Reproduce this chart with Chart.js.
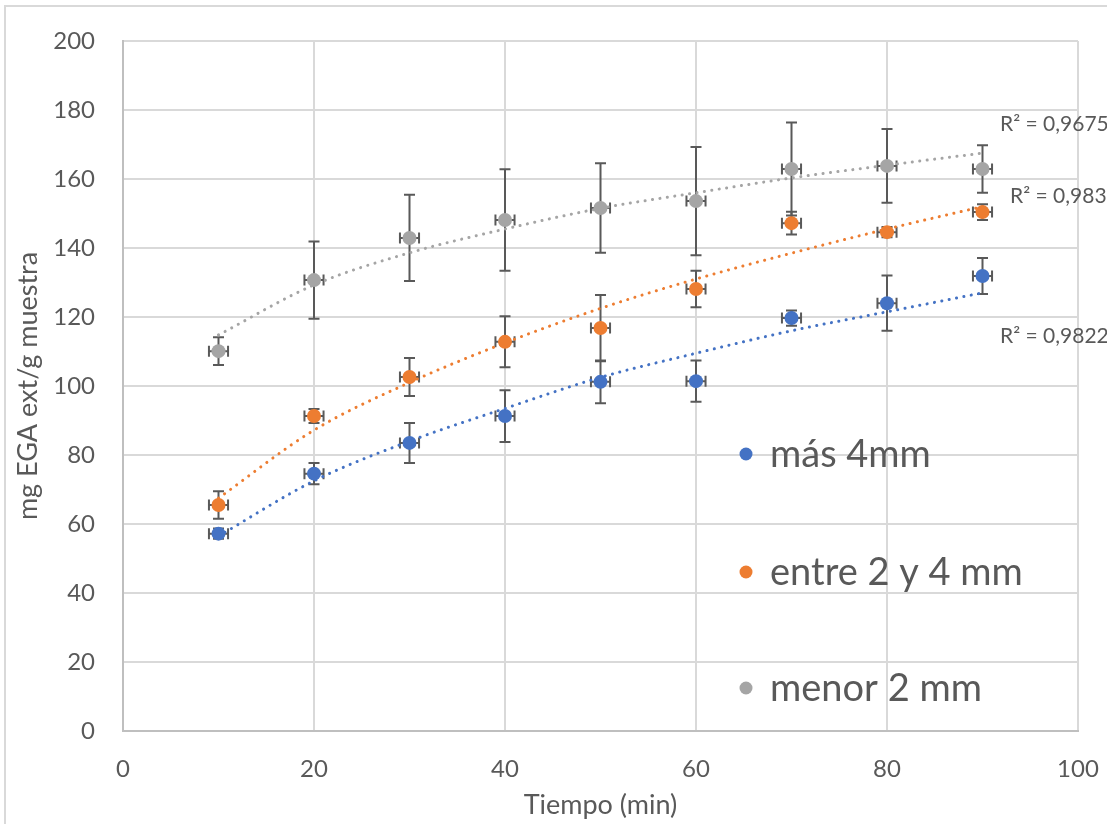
<!DOCTYPE html>
<html>
<head>
<meta charset="utf-8">
<script src="https://cdn.jsdelivr.net/npm/chart.js@4.4.1/dist/chart.umd.min.js"></script>
<style>
  html, body { margin: 0; padding: 0; background: #fff; }
  canvas { display: block; }
</style>
</head>
<body>
<canvas id="chart" width="1107" height="824"></canvas>
<script>
const times = [10, 20, 30, 40, 50, 60, 70, 80, 90];
const xTicks = [0, 20, 40, 60, 80, 100];
const yTicks = [0, 20, 40, 60, 80, 100, 120, 140, 160, 180, 200];

const seriesNames = ['más 4mm', 'entre 2 y 4 mm', 'menor 2 mm'];
const colors = ['#4472C4', '#ED7D31', '#A5A5A5'];

const mas4 = [57.2, 74.6, 83.5, 91.3, 101.2, 101.4, 119.7, 124.0, 131.9];
const mas4Err = [1.5, 3.1, 5.8, 7.5, 6.2, 6.0, 2.2, 8.0, 5.2];
const mas4Trend = [56.5, 72.5, 84.0, 93.5, 102.5, 109.5, 116.0, 121.5, 127.0];

const entre = [65.5, 91.3, 102.6, 112.8, 116.8, 128.1, 147.2, 144.6, 150.4];
const entreErr = [4.0, 2.0, 5.5, 7.4, 9.6, 5.3, 3.3, 1.5, 2.3];
const entreTrend = [67.5, 87.2, 101.0, 112.5, 122.5, 131.0, 138.5, 145.5, 152.0];

const menor = [110.1, 130.7, 142.9, 148.1, 151.6, 153.6, 162.9, 163.8, 162.9];
const menorErr = [4.0, 11.2, 12.5, 14.7, 13.0, 15.7, 13.5, 10.7, 6.9];
const menorTrend = [114.8, 129.3, 138.6, 145.5, 151.5, 156.0, 160.3, 164.0, 167.5];

const xErr = 1;
const r2Labels = ['R² = 0,9822', 'R² = 0,983', 'R² = 0,9675'];

const FONT = 'Lato, "Noto Sans", sans-serif';
const TEXT = '#595959';

const values = [mas4, entre, menor];
const errors = [mas4Err, entreErr, menorErr];
const trends = [mas4Trend, entreTrend, menorTrend];

function pts(ys) {
  return times.map((t, i) => ({ x: t, y: ys[i] }));
}

const markerSets = values.map((v, i) => ({
  type: 'scatter',
  label: seriesNames[i],
  data: pts(v),
  backgroundColor: colors[i],
  borderWidth: 0,
  pointRadius: 7,
  pointHoverRadius: 7
}));

const trendSets = trends.map((v, i) => ({
  type: 'line',
  label: 'trend ' + seriesNames[i],
  data: pts(v),
  borderColor: colors[i],
  borderWidth: 3,
  borderDash: [0.1, 7.4],
  borderCapStyle: 'round',
  cubicInterpolationMode: 'monotone',
  pointRadius: 0,
  fill: false
}));

const background = {
  id: 'background',
  beforeDraw(chart) {
    const ctx = chart.ctx;
    ctx.save();
    ctx.fillStyle = '#fff';
    ctx.fillRect(0, 0, chart.width, chart.height);
    ctx.strokeStyle = '#d9d9d9';
    ctx.lineWidth = 2;
    ctx.strokeRect(5, 6, chart.width + 20, chart.height + 20);
    ctx.restore();
  }
};

const errorBars = {
  id: 'errorBars',
  beforeDatasetsDraw(chart) {
    const ctx = chart.ctx;
    const xs = chart.scales.x, ys = chart.scales.y;
    ctx.save();
    ctx.strokeStyle = '#595959';
    ctx.lineWidth = 2;
    values.forEach((v, s) => {
      times.forEach((t, i) => {
        const px = xs.getPixelForValue(t);
        const py = ys.getPixelForValue(v[i]);
        const top = ys.getPixelForValue(v[i] + errors[s][i]);
        const bot = ys.getPixelForValue(v[i] - errors[s][i]);
        const l = xs.getPixelForValue(t - xErr);
        const r = xs.getPixelForValue(t + xErr);
        ctx.beginPath();
        ctx.moveTo(px, top); ctx.lineTo(px, bot);
        ctx.moveTo(px - 5.5, top); ctx.lineTo(px + 5.5, top);
        ctx.moveTo(px - 5.5, bot); ctx.lineTo(px + 5.5, bot);
        ctx.moveTo(l, py); ctx.lineTo(r, py);
        ctx.moveTo(l, py - 5.5); ctx.lineTo(l, py + 5.5);
        ctx.moveTo(r, py - 5.5); ctx.lineTo(r, py + 5.5);
        ctx.stroke();
      });
    });
    ctx.restore();
  }
};

const labels = {
  id: 'labels',
  afterDraw(chart) {
    const ctx = chart.ctx;
    ctx.save();
    // R² labels
    ctx.fillStyle = TEXT;
    ctx.font = '21px ' + FONT;
    ctx.textBaseline = 'middle';
    ctx.textAlign = 'left';
    const r2Pos = [[1000, 336], [1010, 196], [1000, 124]];
    r2Labels.forEach((txt, i) => ctx.fillText(txt, r2Pos[i][0], r2Pos[i][1]));
    // legend
    const legY = [454, 572, 688];
    ctx.font = '38px ' + FONT;
    seriesNames.forEach((name, i) => {
      ctx.fillStyle = colors[i];
      ctx.beginPath();
      ctx.arc(746, legY[i], 6.5, 0, Math.PI * 2);
      ctx.fill();
      ctx.fillStyle = TEXT;
      ctx.fillText(name, 770, legY[i] + 1);
    });
    ctx.restore();
  }
};

new Chart(document.getElementById('chart'), {
  data: { datasets: [...markerSets, ...trendSets] },
  options: {
    responsive: false,
    animation: false,
    devicePixelRatio: 1,
    layout: { padding: { top: 41, right: 29, left: 0, bottom: 0 } },
    plugins: {
      legend: { display: false },
      tooltip: { enabled: false }
    },
    scales: {
      x: {
        type: 'linear',
        min: 0,
        max: 100,
        afterBuildTicks: s => { s.ticks = xTicks.map(v => ({ value: v })); },
        afterFit: s => { s.height = 93; s.paddingLeft = 0; s.paddingRight = 0; },
        ticks: { color: TEXT, font: { family: FONT, size: 24 }, padding: 24, maxRotation: 0 },
        grid: { color: '#d9d9d9', lineWidth: 2, drawTicks: false },
        border: { color: '#bfbfbf', width: 2 },
        title: {
          display: true,
          text: 'Tiempo (min)',
          color: TEXT,
          font: { family: FONT, size: 27 },
          padding: { top: 0, bottom: 3 }
        }
      },
      y: {
        type: 'linear',
        min: 0,
        max: 200,
        afterBuildTicks: s => { s.ticks = yTicks.map(v => ({ value: v })); },
        afterFit: s => { s.width = 123; s.paddingTop = 0; s.paddingBottom = 0; },
        ticks: { color: TEXT, font: { family: FONT, size: 24 }, padding: 28 },
        grid: { color: '#d9d9d9', lineWidth: 2, drawTicks: false },
        border: { color: '#bfbfbf', width: 2 },
        title: {
          display: true,
          text: 'mg EGA ext/g muestra',
          color: TEXT,
          font: { family: FONT, size: 27 },
          padding: { top: 12, bottom: 0 }
        }
      }
    }
  },
  plugins: [background, errorBars, labels]
});
</script>
</body>
</html>
